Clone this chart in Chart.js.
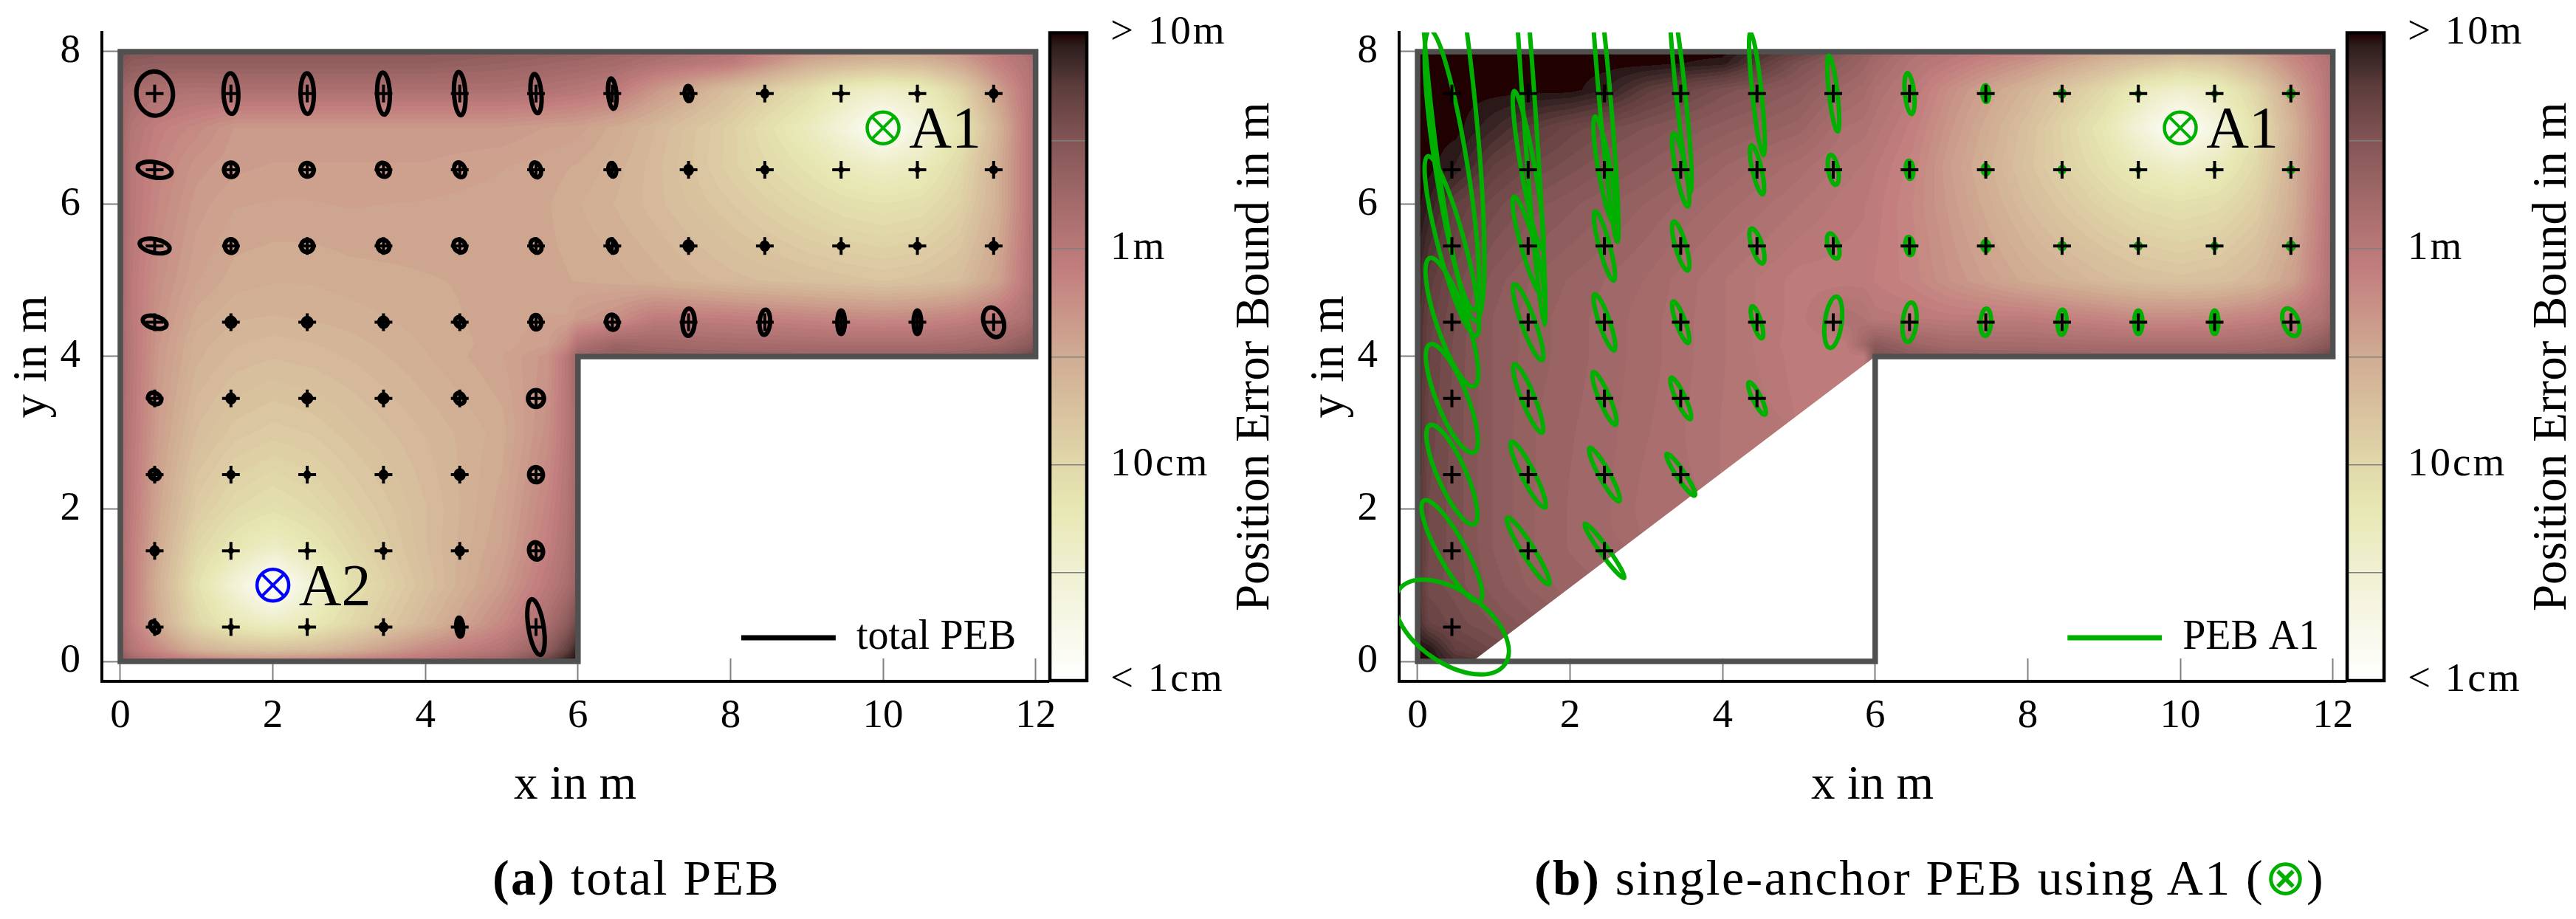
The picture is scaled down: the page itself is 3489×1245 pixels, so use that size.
<!DOCTYPE html>
<html>
<head>
<meta charset="utf-8">
<title>Position error bound maps</title>
<script src="https://cdn.jsdelivr.net/npm/chart.js@4/dist/chart.umd.js"></script>
<style>
  html, body { margin: 0; background: #fff; }
  body { position: relative; width: 3489px; height: 1245px; overflow: hidden; }
  canvas { position: absolute; top: 0; }
  .caption { position: absolute; top: 1149px; font: 68px/80px "Liberation Serif", serif; letter-spacing: 2.4px; white-space: nowrap; color: #000; }
  .caption span { font-family: "DejaVu Sans", sans-serif; color: #00b000; letter-spacing: 0; }
</style>
</head>
<body>
<canvas id="mapA" width="1500" height="1100" style="left:0"></canvas>
<canvas id="barA" width="400" height="1100" style="left:1400px"></canvas>
<canvas id="mapB" width="1500" height="1100" style="left:1757px"></canvas>
<canvas id="barB" width="400" height="1100" style="left:3157px"></canvas>
<div class="caption" style="left:667px"><b>(a)</b> total PEB</div>
<div class="caption" style="left:2078px"><b>(b)</b> single-anchor PEB using A1 (<span>⊗</span>)</div>

<script>
// axes
const xTicks = [0, 2, 4, 6, 8, 10, 12];
const yTicks = [0, 2, 4, 6, 8];
const colorTicks = [-2, -1.5, -1, -0.5, 0, 0.5, 1];
const colorLabels = { '-2': '< 1cm', '-1': '10cm', '0': '1m', '1': '> 10m' };

// floor plan
const wallX = [0, 6, 6, 12, 12, 0, 0];
const wallY = [0, 0, 4, 4, 8, 8, 0];
const roomX = [0, 6, 6, 12, 12, 0];
const roomY = [0, 0, 4, 4, 8, 8];
const visibleX = [0, 0.72, 6, 12, 12, 0];
const visibleY = [0, 0, 4, 4, 8, 8];

// measurement grid
const gridX = [0.45, 1.45, 2.45, 3.45, 4.45, 5.45, 6.45, 7.45, 8.45, 9.45, 10.45, 11.45];
const gridY = [7.45, 6.45, 5.45, 4.45, 3.45, 2.45, 1.45, 0.45];

// anchors
const anchorAX = [10, 2];
const anchorAY = [7, 1];
const anchorANames = ['A1', 'A2'];
const anchorAColors = ['#00b000', '#0000ff'];
const anchorBX = [10];
const anchorBY = [7];
const anchorBNames = ['A1'];
const anchorBColors = ['#00b000'];

// heat map nodes, log10 of the PEB in m
const heatX = [0, 0.15, 0.5, 1, 1.5, 2, 2.5, 3, 4, 5, 5.6, 5.85, 6, 6.5, 7, 8, 9, 9.5, 10, 10.5, 11, 11.5, 11.85, 12];
const heatY = [8, 7.85, 7.5, 7, 6.5, 6, 5, 4.5, 4.15, 4, 3, 2, 1.5, 1, 0.5, 0.15, 0];

const heatA = [
  [0.6, 0.5, 0.45, 0.45, 0.45, 0.45, 0.45, 0.45, 0.45, 0.4, 0.37, 0.36, 0.35, 0.28, 0.2, 0.05, -0.3, -0.38, -0.45, -0.4, -0.3, -0.05, 0.1, 0.2],
  [0.5, 0.4, 0.38, 0.38, 0.38, 0.38, 0.38, 0.38, 0.38, 0.33, 0.28, 0.26, 0.25, 0.2, 0.1, -0.05, -0.5, -0.6, -0.65, -0.62, -0.45, -0.12, 0.05, 0.15],
  [0.3, 0.2, 0.12, 0.1, 0.12, 0.12, 0.12, 0.12, 0.12, 0.12, 0.08, 0.05, 0.03, -0.05, -0.3, -0.7, -1.05, -1.3, -1.4, -1.3, -0.95, -0.4, -0.05, 0.1],
  [0.25, 0.05, -0.1, -0.2, -0.33, -0.33, -0.33, -0.33, -0.33, -0.33, -0.38, -0.39, -0.4, -0.5, -0.62, -0.9, -1.3, -1.6, -2, -1.6, -1.2, -0.6, -0.1, 0.15],
  [0.25, 0, -0.15, -0.3, -0.36, -0.38, -0.38, -0.38, -0.38, -0.42, -0.45, -0.47, -0.48, -0.55, -0.65, -0.9, -1.15, -1.3, -1.4, -1.3, -1.02, -0.55, -0.1, 0.15],
  [0.25, 0, -0.18, -0.35, -0.42, -0.43, -0.43, -0.42, -0.43, -0.45, -0.47, -0.5, -0.52, -0.58, -0.65, -0.82, -1, -1.08, -1.12, -1.08, -0.92, -0.55, -0.1, 0.15],
  [0.25, -0.02, -0.25, -0.42, -0.5, -0.52, -0.52, -0.5, -0.48, -0.46, -0.46, -0.47, -0.48, -0.5, -0.55, -0.65, -0.72, -0.75, -0.78, -0.75, -0.68, -0.42, -0.05, 0.15],
  [0.2, -0.02, -0.28, -0.5, -0.57, -0.58, -0.57, -0.55, -0.5, -0.45, -0.42, -0.42, -0.35, -0.25, -0.05, -0.08, -0.15, -0.18, -0.2, -0.18, -0.12, 0, 0.1, 0.25],
  [0.2, 0, -0.32, -0.55, -0.62, -0.65, -0.63, -0.6, -0.52, -0.45, -0.38, -0.2, 0.1, 0.3, 0.25, 0.2, 0.18, 0.17, 0.17, 0.17, 0.2, 0.27, 0.4, 0.5],
  [0.2, 0, -0.33, -0.56, -0.64, -0.67, -0.65, -0.62, -0.53, -0.43, -0.3, 0, 0.3, 0.4, 0.38, 0.35, 0.32, 0.32, 0.32, 0.32, 0.35, 0.45, 0.6, 0.7],
  [0.2, -0.02, -0.38, -0.68, -0.8, -0.85, -0.82, -0.75, -0.62, -0.5, -0.25, 0, 0.25],
  [0.18, -0.05, -0.45, -0.85, -1.02, -1.1, -1.02, -0.9, -0.68, -0.45, -0.15, 0.05, 0.25],
  [0.18, -0.08, -0.5, -0.98, -1.2, -1.38, -1.2, -1, -0.68, -0.42, -0.1, 0.08, 0.3],
  [0.2, -0.08, -0.55, -1.1, -1.55, -2, -1.55, -1.12, -0.72, -0.35, -0.02, 0.15, 0.35],
  [0.2, -0.08, -0.5, -0.98, -1.25, -1.38, -1.25, -1.02, -0.62, -0.2, 0.15, 0.4, 0.65],
  [0.3, 0.05, -0.2, -0.55, -0.68, -0.72, -0.68, -0.55, -0.2, 0.05, 0.4, 0.7, 0.95],
  [0.5, 0.3, 0.1, -0.05, -0.15, -0.18, -0.15, -0.08, 0.05, 0.3, 0.7, 0.95, 1]
];

const heatB = [
  [1, 1, 1, 1, 1, 1, 1, 1, 1, 0.7, 0.45, 0.35, 0.28, 0.1, 0.02, -0.15, -0.45, -0.5, -0.6, -0.55, -0.35, -0.1, 0.05, 0.15],
  [1, 1, 1, 1, 1, 1, 1, 1, 0.95, 0.55, 0.38, 0.3, 0.22, 0.05, -0.05, -0.3, -0.62, -0.75, -0.85, -0.8, -0.55, -0.2, 0, 0.12],
  [1, 1, 1, 1, 1, 1, 0.92, 0.75, 0.55, 0.42, 0.25, 0.2, 0.12, -0.02, -0.25, -0.6, -1, -1.3, -1.45, -1.3, -0.95, -0.42, -0.08, 0.1],
  [1, 1, 1, 0.88, 0.75, 0.65, 0.58, 0.52, 0.4, 0.3, 0.12, 0.1, 0.05, -0.1, -0.32, -0.72, -1.2, -1.6, -2, -1.6, -1.1, -0.55, -0.12, 0.1],
  [1, 1, 0.92, 0.72, 0.62, 0.55, 0.48, 0.42, 0.28, 0.15, 0.05, 0.02, -0.02, -0.15, -0.38, -0.75, -1.1, -1.3, -1.42, -1.3, -1, -0.52, -0.12, 0.1],
  [1, 0.92, 0.72, 0.6, 0.5, 0.44, 0.38, 0.32, 0.2, 0.08, 0, -0.02, -0.05, -0.18, -0.35, -0.68, -0.95, -1.05, -1.1, -1.05, -0.88, -0.5, -0.1, 0.1],
  [0.9, 0.75, 0.6, 0.45, 0.37, 0.32, 0.27, 0.22, 0.08, -0.05, -0.05, -0.05, -0.08, -0.15, -0.28, -0.5, -0.65, -0.72, -0.75, -0.72, -0.62, -0.38, -0.05, 0.12],
  [0.85, 0.7, 0.58, 0.42, 0.35, 0.3, 0.25, 0.2, 0.08, -0.05, 0.12, 0.08, 0, -0.02, -0.05, -0.05, -0.15, -0.2, -0.2, -0.18, -0.12, 0, 0.1, 0.25],
  [0.85, 0.68, 0.56, 0.42, 0.35, 0.3, 0.25, 0.2, 0.08, -0.06, -0.06, 0.25, 0.45, 0.3, 0.22, 0.2, 0.18, 0.17, 0.17, 0.17, 0.2, 0.27, 0.42, 0.5],
  [0.85, 0.68, 0.56, 0.42, 0.35, 0.3, 0.25, 0.2, 0.08, -0.05, -0.05, -0.05, 0.55, 0.45, 0.38, 0.35, 0.32, 0.32, 0.32, 0.32, 0.35, 0.45, 0.6, 0.7],
  [0.85, 0.65, 0.55, 0.42, 0.33, 0.28, 0.24, 0.18, 0.07],
  [0.82, 0.62, 0.55, 0.42, 0.33, 0.27, 0.23, 0.15],
  [0.82, 0.62, 0.55, 0.42, 0.33, 0.27, 0.23],
  [0.8, 0.6, 0.55, 0.45, 0.36, 0.3],
  [0.85, 0.68, 0.6, 0.52, 0.45],
  [1, 0.98, 0.72, 0.62],
  [1, 1, 0.85]
];

// error ellipses, rows follow gridY and columns follow gridX (metres, degrees)
const semiMajorA = [
  [0.29, 0.266, 0.266, 0.276, 0.285, 0.258, 0.2, 0.1, 0.04, 0.012, 0.015, 0.04],
  [0.225, 0.095, 0.09, 0.095, 0.1, 0.1, 0.09, 0.05, 0.035, 0.012, 0.012, 0.03],
  [0.2, 0.09, 0.08, 0.085, 0.09, 0.09, 0.09, 0.06, 0.045, 0.03, 0.03, 0.04],
  [0.16, 0.06, 0.055, 0.06, 0.07, 0.095, 0.1, 0.18, 0.165, 0.155, 0.155, 0.2],
  [0.09, 0.05, 0.05, 0.05, 0.075, 0.11],
  [0.07, 0.035, 0.03, 0.04, 0.055, 0.1],
  [0.045, 0.012, 0.012, 0.025, 0.045, 0.115],
  [0.08, 0.015, 0.015, 0.04, 0.125, 0.37]
];
const semiMinorA = [
  [0.24, 0.097, 0.087, 0.083, 0.075, 0.07, 0.055, 0.05, 0.03, 0.01, 0.012, 0.035],
  [0.1, 0.09, 0.085, 0.08, 0.07, 0.065, 0.05, 0.04, 0.03, 0.01, 0.01, 0.03],
  [0.09, 0.08, 0.08, 0.075, 0.075, 0.07, 0.055, 0.05, 0.04, 0.03, 0.03, 0.04],
  [0.08, 0.055, 0.055, 0.055, 0.055, 0.07, 0.08, 0.08, 0.07, 0.05, 0.05, 0.13],
  [0.07, 0.045, 0.05, 0.05, 0.06, 0.105],
  [0.06, 0.03, 0.02, 0.035, 0.05, 0.09],
  [0.04, 0.01, 0.01, 0.025, 0.04, 0.09],
  [0.05, 0.012, 0.012, 0.035, 0.045, 0.1]
];
const tiltA = [
  [95, 92, 91, 92, 93, 95, 95, 95, 90, 90, 90, 90],
  [170, 100, 110, 120, 110, 105, 100, 100, 100, 90, 90, 90],
  [168, 100, 90, 120, 130, 115, 110, 100, 100, 90, 90, 90],
  [165, 100, 90, 100, 125, 95, 105, 88, 86, 90, 90, 108],
  [150, 100, 90, 90, 120, 90],
  [150, 90, 90, 90, 100, 100],
  [90, 90, 90, 90, 100, 105],
  [120, 90, 90, 100, 95, 99]
];

const semiMajorB = [
  [3, 3.04, 1.95, 1.3, 0.81, 0.5, 0.27, 0.11, 0.04, 0.02, 0.02, 0.04],
  [1.86, 1.05, 0.71, 0.49, 0.33, 0.2, 0.12, 0.06, 0.035, 0.015, 0.012, 0.03],
  [1.22, 0.675, 0.47, 0.335, 0.24, 0.17, 0.12, 0.065, 0.04, 0.035, 0.03, 0.045],
  [0.89, 0.53, 0.39, 0.29, 0.22, 0.34, 0.26, 0.18, 0.165, 0.155, 0.155, 0.19],
  [0.765, 0.485, 0.375, 0.3, 0.237],
  [0.71, 0.485, 0.4, 0.33],
  [0.755, 0.515, 0.44],
  [0.85]
];
const semiMinorB = [
  [0.29, 0.08, 0.075, 0.06, 0.06, 0.055, 0.06, 0.045, 0.03, 0.015, 0.015, 0.035],
  [0.21, 0.09, 0.08, 0.065, 0.06, 0.065, 0.05, 0.04, 0.03, 0.012, 0.01, 0.03],
  [0.175, 0.09, 0.07, 0.07, 0.07, 0.07, 0.055, 0.045, 0.035, 0.03, 0.025, 0.04],
  [0.2, 0.09, 0.07, 0.06, 0.055, 0.11, 0.09, 0.07, 0.06, 0.055, 0.05, 0.1],
  [0.2, 0.085, 0.07, 0.06, 0.055],
  [0.185, 0.085, 0.07, 0.055],
  [0.18, 0.08, 0.055],
  [0.47]
];
const tiltB = [
  [96, 94, 95, 96, 96, 96.5, 96, 93, 90, 90, 90, 90],
  [99, 100, 100, 101, 103, 100, 95, 95, 90, 90, 90, 90],
  [105, 106, 105, 106, 108, 107, 97, 95, 90, 90, 90, 90],
  [109, 110, 109, 110, 107, 82.5, 84, 87, 88, 90, 90, 110],
  [112, 112, 113, 115, 116.6],
  [114, 117, 119, 124],
  [119, 122, 126],
  [145]
];

// reversed pink colour map: position along the colour bar from the top, and its colour
const colormapPos = [0, 0.02, 0.083, 0.167, 0.25, 0.333, 0.365, 0.5, 0.667, 0.73, 0.833, 1];
const colormapRgb = [
  [32, 0, 0], [45, 29, 29], [93, 60, 60], [131, 85, 85], [160, 104, 104], [185, 120, 120],
  [194, 126, 126], [208, 172, 147], [225, 216, 170], [231, 231, 178], [240, 240, 211], [255, 255, 255]
];

Chart.defaults.font.family = '"Liberation Serif", serif';
Chart.defaults.color = '#000';

function pebColor(v) {
  const level = Math.round(v * 20) / 20;
  const t = Math.min(1, Math.max(0, (1 - level) / 3));
  let i = 0;
  while (i < colormapPos.length - 2 && t > colormapPos[i + 1]) i++;
  const f = (t - colormapPos[i]) / (colormapPos[i + 1] - colormapPos[i]);
  return colormapRgb[i].map((c, k) => c + (colormapRgb[i + 1][k] - c) * f);
}

function nodeIndex(nodes, v) {
  // heatX ascends and heatY descends
  const sign = nodes[1] > nodes[0] ? 1 : -1;
  let i = 0;
  while (i < nodes.length - 2 && sign * v > sign * nodes[i + 1]) i++;
  return [i, Math.min(1, Math.max(0, (v - nodes[i]) / (nodes[i + 1] - nodes[i])))];
}

function heatValue(table, x, y) {
  const [i, fx] = nodeIndex(heatX, x);
  const [j, fy] = nodeIndex(heatY, y);
  const corners = [
    [table[j][i], (1 - fx) * (1 - fy)], [table[j][i + 1], fx * (1 - fy)],
    [table[j + 1][i], (1 - fx) * fy], [table[j + 1][i + 1], fx * fy]
  ];
  let sum = 0, weight = 0;
  corners.forEach(([v, w]) => {
    if (v !== undefined) { sum += v * w; weight += w; }
  });
  return weight > 0 ? sum / weight : 1;
}

const heatPlugin = {
  id: 'heat',
  beforeDatasetsDraw(chart, args, opts) {
    const { ctx, chartArea: area, scales: { x, y } } = chart;
    const w = Math.round(area.right - area.left), h = Math.round(area.bottom - area.top);
    const off = document.createElement('canvas');
    off.width = w; off.height = h;
    const octx = off.getContext('2d');
    const img = octx.createImageData(w, h);
    for (let py = 0; py < h; py++) {
      const vy = y.getValueForPixel(area.top + py + 0.5);
      for (let px = 0; px < w; px++) {
        const c = pebColor(heatValue(opts.table, x.getValueForPixel(area.left + px + 0.5), vy));
        const k = (py * w + px) * 4;
        img.data[k] = c[0]; img.data[k + 1] = c[1]; img.data[k + 2] = c[2]; img.data[k + 3] = 255;
      }
    }
    octx.putImageData(img, 0, 0);
    ctx.save();
    ctx.beginPath();
    opts.maskX.forEach((mx, i) => ctx.lineTo(x.getPixelForValue(mx), y.getPixelForValue(opts.maskY[i])));
    ctx.closePath();
    ctx.clip();
    ctx.drawImage(off, area.left, area.top);
    ctx.restore();
  }
};

const ellipsePlugin = {
  id: 'ellipses',
  afterDatasetDraw(chart, args) {
    const ds = chart.data.datasets[args.index];
    if (!ds.semiMajor) return;
    const { ctx, chartArea: area, scales: { x, y } } = chart;
    const sx = x.getPixelForValue(1) - x.getPixelForValue(0);
    ctx.save();
    ctx.beginPath();
    ctx.rect(area.left, area.top, area.right - area.left, area.bottom - area.top);
    ctx.clip();
    ctx.strokeStyle = ds.borderColor;
    ctx.lineWidth = 6;
    ds.semiMajor.forEach((row, r) => row.forEach((a, c) => {
      ctx.beginPath();
      ctx.ellipse(x.getPixelForValue(gridX[c]), y.getPixelForValue(gridY[r]), a * sx, ds.semiMinor[r][c] * sx,
        -ds.tilt[r][c] * Math.PI / 180, 0, 2 * Math.PI);
      ctx.stroke();
    }));
    ctx.restore();
  }
};

const anchorLabelPlugin = {
  id: 'anchorLabels',
  afterDatasetsDraw(chart, args, opts) {
    const { ctx, scales: { x, y } } = chart;
    ctx.save();
    ctx.font = '80px "Liberation Serif", serif';
    ctx.fillStyle = '#000';
    ctx.textBaseline = 'alphabetic';
    opts.names.forEach((name, i) => {
      ctx.fillText(name, x.getPixelForValue(opts.xs[i] + 0.34), y.getPixelForValue(opts.ys[i] - 0.26));
    });
    ctx.restore();
  }
};

// chart.js has no floating legend, so move the box once the layout is done
const legendPlugin = {
  id: 'legendPlace',
  afterLayout(chart, args, opts) {
    const lg = chart.legend;
    lg.left = chart.scales.x.getPixelForValue(opts.x);
    lg.top = chart.scales.y.getPixelForValue(opts.y);
    lg.right = lg.left + 500;
    lg.bottom = lg.top + 80;
  }
};

// the scales reserve half a label plus the tick padding above and below, which would move the plot area
function fixVertical(s, width) {
  s.width = width;
  s.paddingTop = 0;
  s.paddingBottom = 0;
}

function drawMap(id, cfg) {
  const points = [];
  cfg.semiMajor.forEach((row, r) => row.forEach((a, c) => points.push({ x: gridX[c], y: gridY[r] })));

  new Chart(document.getElementById(id), {
    type: 'scatter',
    plugins: [heatPlugin, ellipsePlugin, anchorLabelPlugin, legendPlugin],
    data: {
      datasets: [
        {
          label: 'anchor',
          data: cfg.anchorX.map((x, i) => ({ x, y: cfg.anchorY[i] })),
          pointStyle: 'circle', pointRadius: 21.5, pointBorderWidth: 4.5,
          pointBackgroundColor: 'rgba(0,0,0,0)', pointBorderColor: cfg.anchorColors, order: 0
        },
        {
          label: 'anchor cross',
          data: cfg.anchorX.map((x, i) => ({ x, y: cfg.anchorY[i] })),
          pointStyle: 'crossRot', pointRadius: 21.5, pointBorderWidth: 4,
          pointBorderColor: cfg.anchorColors, order: 0
        },
        {
          label: 'grid',
          data: points,
          pointStyle: 'cross', pointRadius: 12, pointBorderWidth: 4, pointBorderColor: '#000', order: 1
        },
        {
          label: cfg.legend,
          data: points,
          pointRadius: 0,
          borderColor: cfg.color,
          semiMajor: cfg.semiMajor, semiMinor: cfg.semiMinor, tilt: cfg.tilt,
          order: 2
        },
        {
          label: 'walls',
          data: wallX.map((x, i) => ({ x, y: wallY[i] })),
          showLine: true, pointRadius: 0,
          borderColor: '#505050', borderWidth: 7.5,
          borderJoinStyle: 'miter', borderCapStyle: 'square', order: 3
        }
      ]
    },
    options: {
      responsive: false,
      animation: false,
      devicePixelRatio: 1,
      events: [],
      layout: { autoPadding: false, padding: { left: 0, top: 44, right: 80, bottom: 0 } },
      scales: {
        x: {
          type: 'linear', min: -0.242, max: 12.168,
          afterFit: s => { s.height = 177; s.paddingLeft = 0; s.paddingRight = 0; },
          afterBuildTicks: s => { s.ticks = xTicks.map(value => ({ value })); },
          border: { color: '#000', width: 4 },
          grid: { drawOnChartArea: false, drawTicks: true, tickLength: -31, tickColor: '#808080', tickWidth: 2 },
          ticks: { padding: 46, maxRotation: 0, font: { size: 55 } },
          title: { display: true, text: 'x in m', font: { size: 65, lineHeight: 1 }, padding: { top: 0, bottom: 3 } }
        },
        y: {
          type: 'linear', min: -0.2615, max: 8.2518,
          afterFit: s => fixVertical(s, 138),
          afterBuildTicks: s => { s.ticks = yTicks.map(value => ({ value })); },
          border: { color: '#000', width: 4 },
          grid: { drawOnChartArea: false, drawTicks: true, tickLength: -34, tickColor: '#808080', tickWidth: 2 },
          ticks: { padding: 63, font: { size: 55 } },
          title: { display: true, text: 'y in m', font: { size: 65, lineHeight: 1 }, padding: { top: 12, bottom: 0 } }
        }
      },
      plugins: {
        tooltip: { enabled: false },
        heat: { table: cfg.table, maskX: cfg.maskX, maskY: cfg.maskY },
        anchorLabels: { names: cfg.anchorNames, xs: cfg.anchorX, ys: cfg.anchorY },
        legendPlace: { x: cfg.legendX, y: 0.58 },
        legend: {
          position: 'chartArea',
          fullSize: false,
          align: 'start',
          labels: {
            padding: 0,
            boxWidth: 128,
            boxHeight: 7,
            font: { size: 56 },
            generateLabels: () => [{ text: cfg.legend, fillStyle: cfg.color, strokeStyle: cfg.color, lineWidth: 0, hidden: false }]
          }
        }
      }
    }
  });
}

function drawColorBar(id) {
  new Chart(document.getElementById(id), {
    type: 'bar',
    plugins: [{
      id: 'barFrame',
      beforeDraw(chart) { chart.ctx.letterSpacing = '3px'; },
      afterDraw(chart) {
        const { ctx, chartArea: a } = chart;
        ctx.letterSpacing = '0px';
        ctx.save();
        ctx.strokeStyle = '#000';
        ctx.lineWidth = 4.5;
        ctx.strokeRect(a.left, a.top, a.right - a.left, a.bottom - a.top);
        ctx.font = '65px "Liberation Serif", serif';
        ctx.fillStyle = '#000';
        ctx.textAlign = 'center';
        ctx.textBaseline = 'alphabetic';
        ctx.translate(318, (a.top + a.bottom) / 2);
        ctx.rotate(-Math.PI / 2);
        ctx.fillText('Position Error Bound in m', 0, 0);
        ctx.restore();
      }
    }],
    data: {
      labels: [''],
      datasets: [{
        data: [[-2, 1]],
        barPercentage: 1,
        categoryPercentage: 1,
        backgroundColor: c => {
          const a = c.chart.chartArea;
          if (!a) return '#fff';
          const g = c.chart.ctx.createLinearGradient(0, a.top, 0, a.bottom);
          colormapPos.forEach((p, i) => g.addColorStop(p, `rgb(${colormapRgb[i].join(',')})`));
          return g;
        }
      }]
    },
    options: {
      responsive: false,
      animation: false,
      devicePixelRatio: 1,
      events: [],
      layout: { autoPadding: false, padding: { left: 22, top: 44.5, right: 0, bottom: 178 } },
      scales: {
        x: { display: false },
        y: {
          position: 'right', min: -2, max: 1,
          afterFit: s => fixVertical(s, 328),
          afterBuildTicks: s => { s.ticks = colorTicks.map(value => ({ value })); },
          border: { display: false },
          grid: { drawTicks: false, color: '#808080', lineWidth: 1.5, z: 1 },
          ticks: { padding: 32, autoSkip: false, font: { size: 55 }, callback: v => colorLabels[v] || '' }
        }
      },
      plugins: { legend: { display: false }, tooltip: { enabled: false } }
    }
  });
}

drawMap('mapA', {
  table: heatA, maskX: roomX, maskY: roomY,
  semiMajor: semiMajorA, semiMinor: semiMinorA, tilt: tiltA,
  anchorX: anchorAX, anchorY: anchorAY, anchorNames: anchorANames, anchorColors: anchorAColors,
  color: '#000000', legend: 'total PEB', legendX: 8.14
});
drawMap('mapB', {
  table: heatB, maskX: visibleX, maskY: visibleY,
  semiMajor: semiMajorB, semiMinor: semiMinorB, tilt: tiltB,
  anchorX: anchorBX, anchorY: anchorBY, anchorNames: anchorBNames, anchorColors: anchorBColors,
  color: '#00b000', legend: 'PEB A1', legendX: 8.52
});
drawColorBar('barA');
drawColorBar('barB');
</script>
</body>
</html>
